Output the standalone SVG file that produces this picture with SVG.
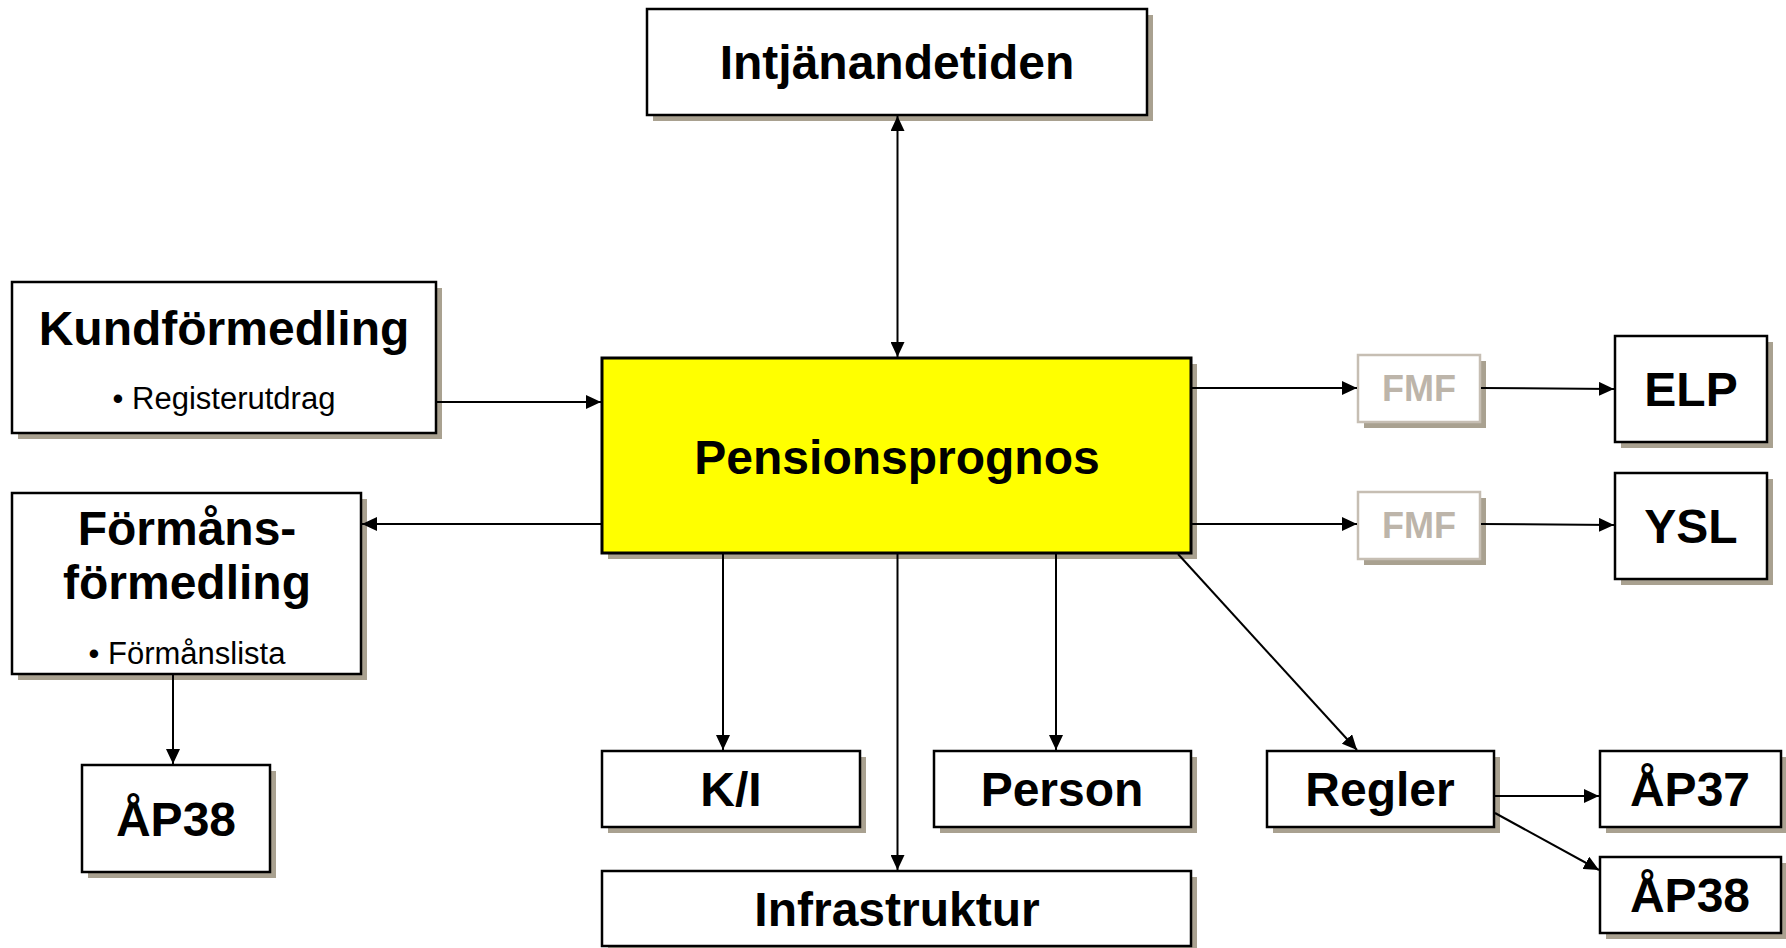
<svg xmlns="http://www.w3.org/2000/svg" width="1786" height="948" viewBox="0 0 1786 948">
  <style>
    .box { fill: #ffffff; stroke: #000000; stroke-width: 2.5; }
    .main { fill: #ffff00; stroke: #000000; stroke-width: 3; }
    .ghost { fill: #ffffff; stroke: #c6beb3; stroke-width: 2.5; }
    .shadow { fill: #a9a190; }
    .big { font-family: "Liberation Sans", Arial, sans-serif; font-weight: bold; font-size: 48px; fill: #000000; text-anchor: middle; }
    .small { font-family: "Liberation Sans", Arial, sans-serif; font-size: 31px; fill: #000000; text-anchor: middle; }
    .fmf { font-family: "Liberation Sans", Arial, sans-serif; font-weight: bold; font-size: 36px; fill: #bdb5aa; text-anchor: middle; }
    .conn line { stroke: #000000; stroke-width: 2; fill: none; }
  </style>
  <defs>
    <marker id="arrow" viewBox="0 0 15 14" refX="15" refY="7" markerWidth="15" markerHeight="14" markerUnits="userSpaceOnUse" orient="auto-start-reverse">
      <path d="M0,0 L15,7 L0,14 z" fill="#000000"/>
    </marker>
  </defs>
  <rect width="1786" height="948" fill="#ffffff"/>

  <g id="intjanandetiden">
    <rect class="shadow" x="653" y="15" width="500" height="106"/>
    <rect class="box" x="647" y="9" width="500" height="106"/>
    <text class="big" x="897" y="79">Intjänandetiden</text>
  </g>

  <g id="kundformedling">
    <rect class="shadow" x="18" y="288" width="424" height="151"/>
    <rect class="box" x="12" y="282" width="424" height="151"/>
    <text class="big" x="224" y="345">Kundförmedling</text>
    <text class="small" x="224" y="409">• Registerutdrag</text>
  </g>

  <g id="formansformedling">
    <rect class="shadow" x="18" y="499" width="349" height="181"/>
    <rect class="box" x="12" y="493" width="349" height="181"/>
    <text class="big" x="187" y="545">Förmåns-</text>
    <text class="big" x="187" y="599">förmedling</text>
    <text class="small" x="187" y="664">• Förmånslista</text>
  </g>

  <g id="pensionsprognos">
    <rect class="shadow" x="608" y="364" width="589" height="195"/>
    <rect class="main" x="602" y="358" width="589" height="195"/>
    <text class="big" x="897" y="474">Pensionsprognos</text>
  </g>

  <g id="fmf-elp">
    <rect class="shadow" x="1364" y="361" width="122" height="67"/>
    <rect class="ghost" x="1358" y="355" width="122" height="67"/>
    <text class="fmf" x="1419" y="401">FMF</text>
  </g>

  <g id="fmf-ysl">
    <rect class="shadow" x="1364" y="498" width="122" height="67"/>
    <rect class="ghost" x="1358" y="492" width="122" height="67"/>
    <text class="fmf" x="1419" y="538">FMF</text>
  </g>

  <g id="elp">
    <rect class="shadow" x="1621" y="342" width="152" height="106"/>
    <rect class="box" x="1615" y="336" width="152" height="106"/>
    <text class="big" x="1691" y="406">ELP</text>
  </g>

  <g id="ysl">
    <rect class="shadow" x="1621" y="479" width="152" height="106"/>
    <rect class="box" x="1615" y="473" width="152" height="106"/>
    <text class="big" x="1691" y="543">YSL</text>
  </g>

  <g id="ap38-left">
    <rect class="shadow" x="88" y="771" width="188" height="107"/>
    <rect class="box" x="82" y="765" width="188" height="107"/>
    <text class="big" x="176" y="836">ÅP38</text>
  </g>

  <g id="ki">
    <rect class="shadow" x="608" y="757" width="258" height="76"/>
    <rect class="box" x="602" y="751" width="258" height="76"/>
    <text class="big" x="731" y="806">K/I</text>
  </g>

  <g id="person">
    <rect class="shadow" x="940" y="757" width="257" height="76"/>
    <rect class="box" x="934" y="751" width="257" height="76"/>
    <text class="big" x="1062" y="806">Person</text>
  </g>

  <g id="infrastruktur">
    <rect class="shadow" x="608" y="877" width="589" height="75"/>
    <rect class="box" x="602" y="871" width="589" height="75"/>
    <text class="big" x="897" y="926">Infrastruktur</text>
  </g>

  <g id="regler">
    <rect class="shadow" x="1273" y="757" width="227" height="76"/>
    <rect class="box" x="1267" y="751" width="227" height="76"/>
    <text class="big" x="1380" y="806">Regler</text>
  </g>

  <g id="ap37">
    <rect class="shadow" x="1606" y="757" width="181" height="76"/>
    <rect class="box" x="1600" y="751" width="181" height="76"/>
    <text class="big" x="1690" y="806">ÅP37</text>
  </g>

  <g id="ap38-right">
    <rect class="shadow" x="1606" y="863" width="181" height="76"/>
    <rect class="box" x="1600" y="857" width="181" height="76"/>
    <text class="big" x="1690" y="912">ÅP38</text>
  </g>

  <!-- connectors, drawn over the box shadows -->
  <g id="connectors" class="conn">
    <line x1="897.5" y1="116" x2="897.5" y2="357" marker-start="url(#arrow)" marker-end="url(#arrow)"/>
    <line x1="437" y1="402" x2="601" y2="402" marker-end="url(#arrow)"/>
    <line x1="601" y1="524" x2="362" y2="524" marker-end="url(#arrow)"/>
    <line x1="1192" y1="388" x2="1357" y2="388" marker-end="url(#arrow)"/>
    <line x1="1481" y1="388" x2="1614" y2="389" marker-end="url(#arrow)"/>
    <line x1="1192" y1="524" x2="1357" y2="524" marker-end="url(#arrow)"/>
    <line x1="1481" y1="524" x2="1614" y2="525" marker-end="url(#arrow)"/>
    <line x1="723" y1="554" x2="723" y2="750" marker-end="url(#arrow)"/>
    <line x1="897.5" y1="554" x2="897.5" y2="870" marker-end="url(#arrow)"/>
    <line x1="1056" y1="554" x2="1056" y2="750" marker-end="url(#arrow)"/>
    <line x1="1178" y1="554" x2="1357" y2="750" marker-end="url(#arrow)"/>
    <line x1="1495" y1="796" x2="1599" y2="796" marker-end="url(#arrow)"/>
    <line x1="1495" y1="813" x2="1599" y2="870" marker-end="url(#arrow)"/>
    <line x1="173" y1="675" x2="173" y2="764" marker-end="url(#arrow)"/>
  </g>
</svg>
